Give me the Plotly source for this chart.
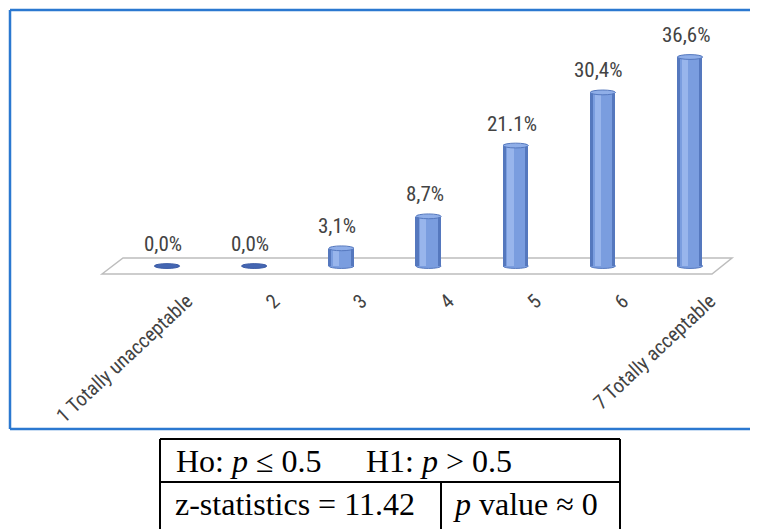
import plotly.graph_objects as go

# ---- data ----
categories = ["1 Totally unacceptable", "2", "3", "4", "5", "6", "7 Totally acceptable"]
values = [0.0, 0.0, 3.1, 8.7, 21.1, 30.4, 36.6]
value_labels = ["0,0%", "0,0%", "3,1%", "8,7%", "21.1%", "30,4%", "36,6%"]
table_row1 = ["Ho: <i>p</i> ≤ 0.5", "H1: <i>p</i> > 0.5"]
table_row2 = ["z-statistics = 11.42", "<i>p</i> value ≈ 0"]

# page body has an 8px margin: size the figure so it ends at the window edge
OFF = 8
W, H = 758 - OFF, 529 - OFF


def px(x):
    return (x - OFF) / W


def py(y):
    return 1 - (y - OFF) / H


BAR_DARK = "#5578BE"
BAR_MID = "#7A9DDF"
BAR_LIGHT = "#98B5EC"
CAP = "#8FAEE8"
TEXT = "#434343"
LABEL_FONT = "Liberation Sans Narrow, Arial Narrow, Roboto Condensed, Roboto, sans-serif"
SERIF = "Liberation Serif, DejaVu Serif, serif"

idx = list(range(len(categories)))
fig = go.Figure()

# cylinder body: dark edge, mid fill, highlight stripe
fig.add_trace(go.Bar(x=idx, y=values, width=0.29, marker=dict(color=BAR_DARK, line=dict(width=0)),
                     hoverinfo="skip", showlegend=False))
fig.add_trace(go.Bar(x=idx, y=values, width=0.22, marker=dict(color=BAR_MID, line=dict(width=0)),
                     hoverinfo="skip", showlegend=False))
fig.add_trace(go.Bar(x=idx, y=values, width=0.07, offset=-0.09, marker=dict(color=BAR_LIGHT, line=dict(width=0)),
                     hoverinfo="skip", showlegend=False))

shapes = []
annotations = []

# floor (perspective plate)
floor = [(102, 274), (123, 258), (732, 258), (712, 274)]
path = "M " + " L ".join(f"{px(a)},{py(b)}" for a, b in floor) + " Z"
shapes.append(dict(type="path", path=path, xref="paper", yref="paper",
                   line=dict(color="#BDBDBD", width=1.5), fillcolor="#FFFFFF", layer="below"))

half_w = 0.145
cap_h = 0.42
for i, v in zip(idx, values):
    if v == 0:
        shapes.append(dict(type="circle", xref="x", yref="y", x0=i - half_w, x1=i + half_w,
                           y0=-cap_h, y1=cap_h, fillcolor="#4466B2", line=dict(color="#3A5AA5", width=1)))
    else:
        # rounded bottom
        shapes.append(dict(type="circle", xref="x", yref="y", x0=i - half_w, x1=i + half_w,
                           y0=-cap_h, y1=cap_h, fillcolor=BAR_MID, line=dict(color=BAR_DARK, width=1),
                           layer="below"))
        # top cap
        shapes.append(dict(type="circle", xref="x", yref="y", x0=i - half_w, x1=i + half_w,
                           y0=v - cap_h, y1=v + cap_h, fillcolor=CAP, line=dict(color=BAR_DARK, width=1)))
    annotations.append(dict(x=i, y=v, xref="x", yref="y", text=value_labels[i], showarrow=False,
                            yanchor="bottom", yshift=8, xshift=-4,
                            font=dict(family=LABEL_FONT, size=21, color=TEXT)))

# blue frame (open on the right)
blue = "#2B78D0"
shapes.append(dict(type="line", xref="paper", yref="paper", x0=px(10), x1=px(770), y0=py(10), y1=py(10),
                   line=dict(color=blue, width=2.5)))
shapes.append(dict(type="line", xref="paper", yref="paper", x0=px(10), x1=px(10), y0=py(10), y1=py(429),
                   line=dict(color=blue, width=2.5)))
shapes.append(dict(type="line", xref="paper", yref="paper", x0=px(10), x1=px(770), y0=py(429), y1=py(429),
                   line=dict(color=blue, width=2.5)))

# table
tl, tr, tt, tm, tb, tv = 160, 620, 439, 482, 540, 441
for (x0, y0, x1, y1) in [(tl, tt, tr, tt), (tl, tm, tr, tm), (tl, tt, tl, tb), (tr, tt, tr, tb), (tv, tm, tv, tb)]:
    shapes.append(dict(type="line", xref="paper", yref="paper", x0=px(x0), x1=px(x1), y0=py(y0), y1=py(y1),
                       line=dict(color="#000000", width=2)))

for txt, x in zip(table_row1, [174, 364]):
    annotations.append(dict(x=px(x), y=py(461), xref="paper", yref="paper", text=txt, showarrow=False,
                            xanchor="left", yanchor="middle", font=dict(family=SERIF, size=32, color="#000")))
for txt, x in zip(table_row2, [173, 451]):
    annotations.append(dict(x=px(x), y=py(504), xref="paper", yref="paper", text=txt, showarrow=False,
                            xanchor="left", yanchor="middle", font=dict(family=SERIF, size=32, color="#000")))

fig.update_layout(
    width=W, height=H,
    margin=dict(l=0, r=0, t=0, b=0, pad=0, autoexpand=False),
    paper_bgcolor="white", plot_bgcolor="rgba(0,0,0,0)",
    barmode="overlay", bargap=0,
    shapes=shapes, annotations=annotations,
    showlegend=False,
    xaxis=dict(domain=[px(123.4), px(733.6)], range=[-0.5, 6.5], automargin=False,
               tickmode="array", tickvals=idx, ticktext=categories,
               tickangle=-43, ticklabelshift=20, ticklabelstandoff=10,
               showgrid=False, zeroline=False, showline=False, ticks="",
               tickfont=dict(family=LABEL_FONT, size=20, color=TEXT), fixedrange=True),
    yaxis=dict(domain=[py(274.6), py(37.6)], range=[-1.5, 40], visible=False, automargin=False,
               fixedrange=True),
)

fig.write_html("out.html", config={"displayModeBar": False})
